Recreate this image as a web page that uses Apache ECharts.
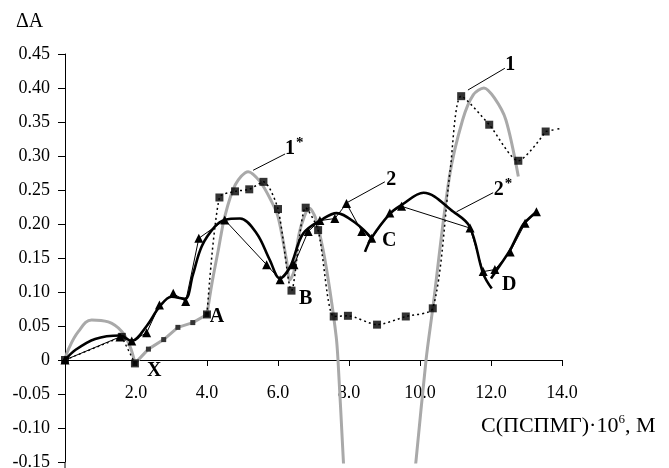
<!DOCTYPE html>
<html><head><meta charset="utf-8">
<script src="https://cdn.jsdelivr.net/npm/echarts@6/dist/echarts.min.js"></script>
<style>html,body{margin:0;padding:0;background:#fff}#c{width:669px;height:468px}</style>
</head><body><div id="c"></div>
<script>
// axis ranges
const yMin = -0.15, yMax = 0.45, yStep = 0.05;
const xMin = 0, xMax = 14, xStep = 2;

// Series 1 (experimental, squares, dotted)
const s1Start = [[0,0],[1.6,0.034],[1.97,-0.005]];
const s1XA = [[1.97,-0.005],[2.35,0.016],[2.78,0.030],[3.18,0.048],[3.6,0.055],[4.0,0.067]];
const s1Main = [[4.0,0.067],[4.35,0.239],[4.79,0.248],[5.19,0.251],[5.59,0.262],[6.0,0.222],[6.38,0.102],[6.78,0.224],[7.13,0.191],[7.57,0.064],[7.97,0.065],[8.79,0.052],[9.6,0.064],[10.36,0.076],[10.85,0.279],[11.16,0.388],[11.95,0.346],[12.77,0.293],[13.54,0.336]];
const s1Tail = [[13.54,0.336],[14.0,0.341]];
const s1Markers = [[0,0],[1.6,0.034],[1.97,-0.005],[4.0,0.067],[4.35,0.239],[4.79,0.248],[5.19,0.251],[5.59,0.262],[6.0,0.222],[6.38,0.102],[6.78,0.224],[7.13,0.191],[7.57,0.064],[7.97,0.065],[8.79,0.052],[9.6,0.064],[10.36,0.076],[11.16,0.388],[11.95,0.346],[12.77,0.293],[13.54,0.336]];

// Series 1* (calculated, grey)
const g1a = [[0,0],[0.09,0.015],[0.38,0.042],[0.75,0.059],[1.22,0.056],[1.6,0.042],[1.83,0.02],[1.97,-0.005]];
const g1b = [[4.0,0.067],[4.14,0.113],[4.32,0.162],[4.5,0.211],[4.8,0.258],[5.16,0.277],[5.5,0.262],[5.8,0.235],[6.0,0.211],[6.24,0.147],[6.33,0.118],[6.45,0.13],[6.6,0.187],[6.89,0.223],[7.05,0.21],[7.27,0.162],[7.46,0.103],[7.64,0.034],[7.69,0.0],[7.84,-0.147],[7.86,-0.17]];
const g1c = [[9.84,-0.17],[9.89,-0.147],[10.17,0.0],[10.36,0.076],[10.83,0.27],[11.2,0.353],[11.5,0.39],[11.8,0.40],[12.1,0.385],[12.42,0.353],[12.77,0.27]];

// Series 2 (experimental, triangles, thin)
const s2 = [[0,0],[1.55,0.034],[1.88,0.028],[2.3,0.04],[2.66,0.081],[3.05,0.098],[3.4,0.086],[3.77,0.179],[4.5,0.206],[5.68,0.14],[6.06,0.118],[6.45,0.14],[6.85,0.189],[7.18,0.205],[7.6,0.208],[7.93,0.23],[8.36,0.189],[8.64,0.179],[9.15,0.216],[9.48,0.226],[11.41,0.194],[11.78,0.13],[12.11,0.133],[12.54,0.159],[12.96,0.201],[13.28,0.218]];

// Series 2* (calculated, thick black)
const t2a = [[0,0],[0.3,0.015],[0.85,0.031],[1.55,0.036],[1.88,0.028],[2.3,0.05],[2.66,0.078],[3.0,0.093],[3.38,0.09],[3.6,0.125],[3.85,0.167],[4.22,0.196],[4.5,0.206],[4.93,0.208],[5.4,0.186],[5.77,0.147],[6.05,0.12],[6.34,0.137],[6.71,0.186],[7.28,0.208],[7.65,0.216],[8.22,0.2],[8.64,0.179]];
const t2b = [[8.45,0.159],[8.64,0.18],[9.15,0.215],[9.48,0.228],[10.1,0.246],[10.94,0.218],[11.4,0.196],[11.78,0.127],[12.02,0.105]];
const t2c = [[12.0,0.12],[12.16,0.132],[12.54,0.162],[12.9,0.199],[13.28,0.218]];

// annotations (data coordinates)
const leaderLines = [
  [[5.3,0.279],[6.2,0.303]],
  [[11.35,0.397],[12.39,0.429]],
  [[7.93,0.231],[9.01,0.262]],
  [[11.03,0.218],[12.06,0.246]]
];
const curveLabels = [
  {t:'1', at:[6.2,0.310], star:true},
  {t:'1', at:[12.4,0.434]},
  {t:'2', at:[9.05,0.265]},
  {t:'2', at:[12.08,0.25], star:true},
  {t:'A', at:[4.08,0.063]},
  {t:'X', at:[2.31,-0.016]},
  {t:'B', at:[6.59,0.090]},
  {t:'C', at:[8.93,0.175]},
  {t:'D', at:[12.31,0.110]}
];

const FONT = '"Liberation Serif","Times New Roman",serif';
const GREY = '#a9a9a9';
const chart = echarts.init(document.getElementById('c'), null, {renderer:'canvas'});

function line(data, o) {
  return Object.assign({type:'line', data:data, showSymbol:false, symbol:'none', animation:false, silent:true, z:2,
    lineStyle:{color:'#000', width:1}}, o);
}

const GRID_TOP = 54, GRID_BOTTOM = 6, PLOT_H = 468 - GRID_TOP - GRID_BOTTOM;
const zeroOffset = -PLOT_H * (0 - yMin) / (yMax - yMin);

const option = {
  animation:false,
  grid:{left:65, right:107, top:GRID_TOP, bottom:GRID_BOTTOM, containLabel:false, outerBoundsMode:'none'},
  xAxis:{type:'value', min:xMin, max:xMax, interval:xStep, offset:zeroOffset,
    axisLine:{onZero:false, lineStyle:{color:'#000', width:1}},
    axisTick:{show:true, length:6, inside:false, lineStyle:{color:'#000'}},
    axisLabel:{margin:24, color:'#000', fontFamily:FONT, fontSize:18,
      formatter:v => v===0 ? '' : v.toFixed(1)},
    splitLine:{show:false}},
  yAxis:{type:'value', min:yMin, max:yMax, interval:yStep,
    axisLine:{show:true, onZero:false, lineStyle:{color:'#000', width:1}},
    axisTick:{show:true, length:7, inside:false, lineStyle:{color:'#000'}},
    axisLabel:{margin:15, color:'#000', fontFamily:FONT, fontSize:18,
      formatter:v => Math.abs(v)<1e-9 ? '0' : v.toFixed(2)},
    splitLine:{show:false}},
  series:[
    line(g1a, {smooth:0.4, lineStyle:{color:GREY, width:3}, z:1}),
    line(g1b, {smooth:0.3, lineStyle:{color:GREY, width:3}, z:1}),
    line(g1c, {smooth:0.3, lineStyle:{color:GREY, width:3}, z:1}),
    line(s1XA, {showSymbol:true, symbol:'rect', symbolSize:5, itemStyle:{color:'#333'}, lineStyle:{color:GREY, width:3}, z:1}),
    line(s1Start, {lineStyle:{color:'#000', width:1.3, type:[2,3]}}),
    line(s1Main, {smooth:0.25, lineStyle:{color:'#000', width:1.5, type:[2,3]}}),
    line(s1Tail, {lineStyle:{color:'#000', width:1.5, type:[2,4]}}),
    {type:'scatter', data:s1Markers, symbol:'rect', symbolSize:8, itemStyle:{color:'#000'}, animation:false, silent:true, z:3},
    line(t2a, {smooth:0.35, lineStyle:{color:'#000', width:2.6}}),
    line(t2b, {smooth:0.35, lineStyle:{color:'#000', width:2.6}}),
    line(t2c, {smooth:0.2, lineStyle:{color:'#000', width:2.6}}),
    line(s2, {showSymbol:true, symbol:'triangle', symbolSize:9, itemStyle:{color:'#000'}, lineStyle:{color:'#000', width:1}, z:3})
  ]
};
chart.setOption(option);

const P = p => chart.convertToPixel({gridIndex:0}, p);
const graphics = [];
leaderLines.forEach(l => {
  const a = P(l[0]), b = P(l[1]);
  graphics.push({type:'line', shape:{x1:a[0], y1:a[1], x2:b[0], y2:b[1]}, style:{stroke:'#000', lineWidth:1}, z:10});
});
curveLabels.forEach(c => {
  const p = P(c.at);
  graphics.push({type:'text', x:p[0], y:p[1], style:{text:c.t, font:'bold 20px '+FONT, fill:'#000', textAlign:'left', textVerticalAlign:'middle'}, z:10});
  if (c.star) {
    graphics.push({type:'text', x:p[0]+11, y:p[1]-6, style:{text:'*', font:'bold 15px '+FONT, fill:'#000', textAlign:'left', textVerticalAlign:'middle'}, z:10});
  }
});
// y axis continues to the bottom edge
const yb = P([0, yMin]);
graphics.push({type:'line', shape:{x1:yb[0], y1:yb[1], x2:yb[0], y2:468}, style:{stroke:'#000', lineWidth:1}});
graphics.push({type:'text', left:16, top:12, style:{text:'ΔA', font:'20px '+FONT, fill:'#000'}});
graphics.push({type:'text', left:481, top:413, style:{
  text:'{n|С(ПСПМГ)·10}{s|6}{n|, М}',
  rich:{n:{fontFamily:FONT, fontSize:22, fill:'#000', color:'#000', lineHeight:24, verticalAlign:'bottom'},
        s:{fontFamily:FONT, fontSize:13, fill:'#000', color:'#000', lineHeight:24, verticalAlign:'top'}}}});
chart.setOption({graphic:graphics});
</script>
</body></html>
